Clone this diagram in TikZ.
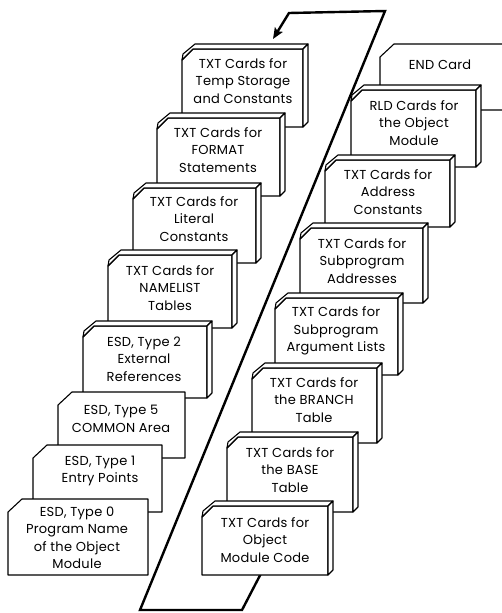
\documentclass[tikz,border=0pt]{standalone}
\usepackage{fontspec}
\setmainfont{Poppins}[LetterSpace=2]
\usetikzlibrary{arrows.meta}

\tikzset{
  cardline/.style={draw=black, fill=white, line width=1.1pt, line join=round},
  cardtext/.style={align=center, font=\fontsize{13}{17.5}\selectfont, inner sep=0pt},
  flowline/.style={line width=2.4pt, line join=miter},
}

% A deck of cards seen in perspective: front face with a clipped corner,
% plus a thin top face and right face.
% #1 name, #2 left x, #3 top y, #4 right x, #5 bottom y, #6 text centre, #7 text
\newcommand\deckcard[7]{%
  \path[cardline] (#2,#5) -- (#2,#3+11) -- (#2+11,#3) -- (#4,#3) -- (#4,#5) -- cycle;
  \path[cardline] (#2,#3+11) -- (#2+11,#3) -- (#4,#3) -- (#4+5,#3-5)
        -- (#2+13,#3-5) -- (#2+1,#3+5) -- cycle;
  \path[cardline] (#4,#3) -- (#4+5,#3-5) -- (#4+5,#5-5) -- (#4,#5) -- cycle;
  \node[cardtext] (#1) at (#6) {#7};
}
% A single flat card with a clipped corner
\newcommand\flatcard[7]{%
  \path[cardline] (#2,#5) -- (#2,#3+13) -- (#2+14,#3) -- (#4,#3) -- (#4,#5) -- cycle;
  \node[cardtext] (#1) at (#6) {#7};
}

\begin{document}
\begin{tikzpicture}[x=1pt,y=-1pt]
  \clip (0,0) rectangle (502,613);
  \fill[white] (0,0) rectangle (502,613);

  % flow loop from the right column back up to the top of the left column
  \coordinate (loopstart) at (268,560);
  \coordinate (loopbr) at (242,610);
  \coordinate (loopbl) at (140,610);
  \coordinate (looptr) at (385,11);
  \coordinate (looptl) at (289,13);
  \coordinate (looptip) at (273,39);
  \draw[flowline, -{Stealth[length=11pt,width=9pt,inset=2pt]}]
    (loopstart) -- (loopbr) -- (loopbl) -- (looptr) -- (looptl) -- (looptip);

  % left column
  \deckcard{tempst}{182}{49}{303}{127}{243,81}{TXT Cards for\\Temp Storage\\and Constants}
  \deckcard{format}{157}{118}{280}{196}{218,150}{TXT Cards for\\FORMAT\\Statements}
  \deckcard{literal}{133}{188}{256}{263}{194,219}{TXT Cards for\\Literal\\Constants}
  \deckcard{namelist}{108}{255}{232}{328}{170,288}{TXT Cards for\\NAMELIST\\Tables}
  \deckcard{esdtwo}{83}{326}{207}{398}{144,359}{ESD, Type 2\\External\\References}
  \flatcard{esdfive}{58}{392}{185}{458}{121,419}{ESD, Type 5\\COMMON Area}
  \flatcard{esdone}{33}{445}{162}{512}{100,471}{ESD, Type 1\\Entry Points}
  \flatcard{esdzero}{8}{499}{148}{575}{77,538}{ESD, Type 0\\Program Name\\of the Object\\Module}

  % right column
  \flatcard{endcard}{380}{44}{530}{110}{440,65}{END Card}
  \deckcard{rld}{351}{90}{476}{167}{414,123}{RLD Cards for\\the Object\\Module}
  \deckcard{address}{325}{160}{450}{227}{388,192}{TXT Cards for\\Address\\Constants}
  \deckcard{subaddr}{300}{228}{423}{303}{362,261}{TXT Cards for\\Subprogram\\Addresses}
  \deckcard{arglists}{275}{298}{398}{375}{336,331}{TXT Cards for\\Subprogram\\Argument Lists}
  \deckcard{branch}{252}{368}{377}{443}{314,400}{TXT Cards for\\the BRANCH\\Table}
  \deckcard{base}{227}{437}{353}{512}{290,470}{TXT Cards for\\the BASE\\Table}
  \deckcard{objcode}{202}{506}{328}{575}{265,540}{TXT Cards for\\Object\\Module Code}
\end{tikzpicture}
\end{document}
